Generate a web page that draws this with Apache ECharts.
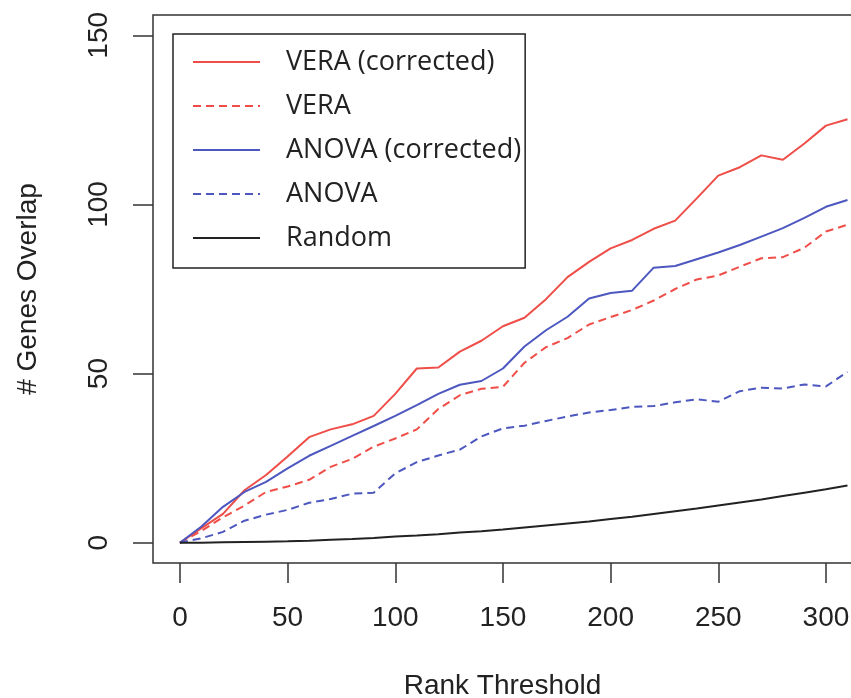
<!DOCTYPE html>
<html>
<head>
<meta charset="utf-8">
<script src="https://cdn.jsdelivr.net/npm/echarts@6/dist/echarts.min.js"></script>
<style>
  html, body { margin: 0; padding: 0; background: #fff; }
  #chart { width: 851px; height: 698px; }
</style>
</head>
<body>
<div id="chart"></div>
<script>
// rank thresholds (x)
const ranks = [0, 10, 20, 30, 40, 50, 60, 70, 80, 90, 100, 110, 120, 130, 140, 150,
  160, 170, 180, 190, 200, 210, 220, 230, 240, 250, 260, 270, 280, 290, 300, 310]

// genes overlap per series
const veraCorrected = [0, 4.3, 8.5, 15.5, 20, 25.5, 31.2, 33.5, 35, 37.5, 44, 51.5, 51.8, 56.5, 59.7, 64,
  66.5, 72, 78.5, 83, 87, 89.5, 92.8, 95.2, 101.8, 108.5, 111, 114.5, 113.2, 118, 123.3, 125.2]
const vera = [0, 3.5, 7.5, 11, 15, 16.6, 18.6, 22.4, 24.8, 28.4, 30.8, 33.5, 39.5, 43.6, 45.5, 46.1,
  53.2, 57.8, 60.5, 64.5, 66.7, 68.8, 71.6, 75, 77.8, 79, 81.6, 84.1, 84.4, 87.2, 92, 94]
const anovaCorrected = [0, 4.8, 10.6, 15, 18, 22, 25.7, 28.6, 31.6, 34.5, 37.5, 40.7, 44, 46.7, 47.8, 51.5,
  58, 62.8, 66.8, 72.2, 73.8, 74.5, 81.3, 81.8, 83.8, 85.8, 88, 90.5, 93, 96, 99.3, 101.3]
const anova = [0, 1.3, 3.2, 6.5, 8.3, 9.7, 11.8, 12.9, 14.5, 14.8, 20.5, 23.8, 25.8, 27.5, 31.4, 33.8,
  34.6, 36, 37.3, 38.5, 39.2, 40.2, 40.4, 41.5, 42.4, 41.7, 44.8, 45.8, 45.6, 46.8, 46.2, 50.5]
const random = [0, 0, 0.1, 0.2, 0.3, 0.4, 0.6, 0.9, 1.1, 1.4, 1.8, 2.1, 2.5, 3, 3.4, 3.9,
  4.5, 5.1, 5.7, 6.3, 7, 7.7, 8.5, 9.3, 10.1, 11, 11.9, 12.8, 13.8, 14.8, 15.8, 16.9]

const xTicks = [0, 50, 100, 150, 200, 250, 300]
const yTicks = [0, 50, 100, 150]

const RED = '#ef4e48'
const BLUE = '#4c57bf'
const AXIS_FONT = 'Liberation Sans'

function lineSeries(name, values, color, dashed) {
  return {
    name: name,
    type: 'line',
    data: ranks.map((r, i) => [r, values[i]]),
    symbol: 'none',
    lineStyle: {
      color: color,
      width: 2,
      type: dashed ? [8, 5] : 'solid'
    },
    itemStyle: { color: color }
  }
}

const chart = echarts.init(document.getElementById('chart'), null, { renderer: 'canvas' })

chart.setOption({
  animation: false,
  backgroundColor: '#fff',
  grid: {
    left: 153,
    top: 15,
    width: 699,
    height: 548,
    outerBoundsMode: 'none',
    show: true,
    borderColor: '#333',
    borderWidth: 1.5
  },
  xAxis: {
    type: 'value',
    min: -12.5,
    max: 312.1,
    axisLine: { show: false, onZero: false },
    splitLine: { show: false },
    axisTick: {
      show: true,
      length: 20,
      customValues: xTicks,
      lineStyle: { color: '#333', width: 1.5 }
    },
    axisLabel: {
      customValues: xTicks,
      fontSize: 28,
      fontFamily: AXIS_FONT,
      color: '#222',
      margin: 41
    },
    name: 'Rank Threshold',
    nameLocation: 'middle',
    nameGap: 109,
    nameTextStyle: { fontSize: 28, fontFamily: AXIS_FONT, color: '#222' }
  },
  yAxis: {
    type: 'value',
    min: -6,
    max: 156,
    axisLine: { show: false, onZero: false },
    splitLine: { show: false },
    axisTick: {
      show: true,
      length: 20,
      customValues: yTicks,
      lineStyle: { color: '#333', width: 1.5 }
    },
    axisLabel: {
      customValues: yTicks,
      rotate: 90,
      fontSize: 28,
      fontFamily: AXIS_FONT,
      color: '#222',
      margin: 40
    },
    name: '# Genes Overlap',
    nameLocation: 'middle',
    nameGap: 111,
    nameTextStyle: { fontSize: 28, fontFamily: AXIS_FONT, color: '#222' }
  },
  legend: {
    orient: 'vertical',
    left: 173,
    top: 34,
    padding: [13, 4, 15, 19],
    itemWidth: 67,
    itemHeight: 14,
    itemGap: 14,
    borderColor: '#222',
    borderWidth: 1.5,
    backgroundColor: '#fff',
    itemStyle: { opacity: 0 },
    textStyle: {
      fontSize: 27,
      fontFamily: 'Open Sans',
      color: '#222',
      lineHeight: 30,
      padding: [0, 0, 0, 21]
    },
    data: ['VERA (corrected)', 'VERA', 'ANOVA (corrected)', 'ANOVA', 'Random']
  },
  series: [
    lineSeries('VERA (corrected)', veraCorrected, RED, false),
    lineSeries('VERA', vera, RED, true),
    lineSeries('ANOVA (corrected)', anovaCorrected, BLUE, false),
    lineSeries('ANOVA', anova, BLUE, true),
    lineSeries('Random', random, '#222', false)
  ]
})
</script>
</body>
</html>
